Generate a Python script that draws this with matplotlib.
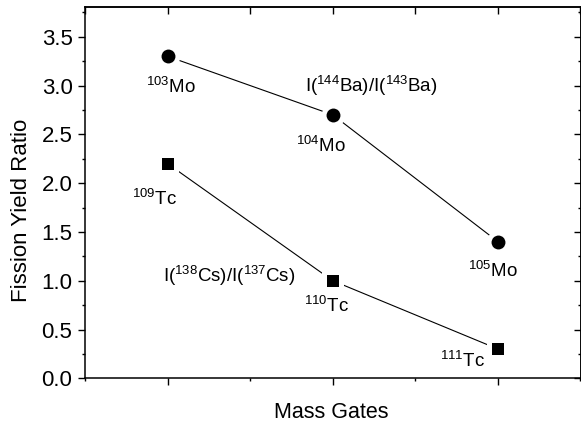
import matplotlib
matplotlib.use("Agg")
import matplotlib.pyplot as plt
from matplotlib.ticker import MultipleLocator, NullFormatter

plt.rcParams['font.family'] = ['Liberation Sans', 'DejaVu Sans']
plt.rcParams['mathtext.fontset'] = 'custom'
plt.rcParams['mathtext.rm'] = 'Liberation Sans'
plt.rcParams['mathtext.it'] = 'Liberation Sans'

gates = [1, 2, 3]
mo_ratio = [3.3, 2.7, 1.4]
tc_ratio = [2.2, 1.0, 0.3]
mo_labels = [r'$^{103}$Mo', r'$^{104}$Mo', r'$^{105}$Mo']
tc_labels = [r'$^{109}$Tc', r'$^{110}$Tc', r'$^{111}$Tc']
mo_title = r'I($^{144}$Ba)/I($^{143}$Ba)'
tc_title = r'I($^{138}$Cs)/I($^{137}$Cs)'

W, H = 581, 428
fig = plt.figure(figsize=(W/100, H/100), dpi=100)
ax = fig.add_axes([85/W, (H-378.3)/H, (580.5-85)/W, (378.3-7.5)/H])

for ys, mk, ms in [(mo_ratio, 'o', 10), (tc_ratio, 's', 9)]:
    ax.plot(gates, ys, '-', color='black', lw=0.8, zorder=2)
    ax.plot(gates, ys, mk, color='white', ms=ms+7, mew=0, zorder=3)
    ax.plot(gates, ys, mk, color='black', ms=ms, mew=0, zorder=4)

fs_ann = 13.5
mo_off = [(3, -31), (-12, -31), (-5, -29)]
tc_off = [(-13, -35), (-6, -25), (-35, -12)]
for x, y, lab, off in zip(gates, mo_ratio, mo_labels, mo_off):
    ax.annotate(lab, (x, y), xytext=off, textcoords='offset pixels',
                ha='center', va='center', fontsize=fs_ann)
for x, y, lab, off in zip(gates, tc_ratio, tc_labels, tc_off):
    ax.annotate(lab, (x, y), xytext=off, textcoords='offset pixels',
                ha='center', va='center', fontsize=fs_ann)

ax.annotate(mo_title, (gates[1], mo_ratio[1]), xytext=(38, 29), textcoords='offset pixels',
            ha='center', va='center', fontsize=fs_ann)
ax.annotate(tc_title, (gates[1], tc_ratio[1]), xytext=(-104, 5), textcoords='offset pixels',
            ha='center', va='center', fontsize=fs_ann)

ax.set_xlim(0.5, 3.5)
ax.set_ylim(0, 3.8)
ax.xaxis.set_major_locator(MultipleLocator(1))
ax.xaxis.set_minor_locator(MultipleLocator(0.5))
ax.xaxis.set_major_formatter(NullFormatter())
ax.yaxis.set_major_locator(MultipleLocator(0.5))
ax.yaxis.set_minor_locator(MultipleLocator(0.25))
ax.yaxis.set_major_formatter(plt.FuncFormatter(lambda v, p: f'{v:.1f}'))

ax.tick_params(axis='both', which='major', direction='out', length=5, width=1.0,
               labelsize=16, top=False, right=False, pad=4)
ax.tick_params(axis='both', which='minor', direction='out', length=2.5, width=1.0,
               top=False, right=False)

axt = ax.secondary_xaxis('top')
axt.xaxis.set_major_locator(MultipleLocator(1))
axt.xaxis.set_minor_locator(MultipleLocator(0.5))
axt.tick_params(which='major', direction='in', length=5, width=1.0, labeltop=False)
axt.tick_params(which='minor', direction='in', length=5, width=1.0)
axt.xaxis.set_major_formatter(NullFormatter())
axr = ax.secondary_yaxis('right')
axr.yaxis.set_major_locator(MultipleLocator(0.5))
axr.yaxis.set_minor_locator(MultipleLocator(0.25))
axr.tick_params(which='major', direction='in', length=5, width=1.0, labelright=False)
axr.tick_params(which='minor', direction='in', length=2.5, width=1.0)
axr.yaxis.set_major_formatter(NullFormatter())

for s in ax.spines.values():
    s.set_linewidth(1.1)
axt.spines['top'].set_linewidth(1.1)
axr.spines['right'].set_linewidth(1.1)

ax.set_xlabel('Mass Gates', fontsize=15.5, va='center')
ax.xaxis.set_label_coords((331-85)/495.5, (378.3-413)/370.8)
ax.set_ylabel('Fission Yield Ratio', fontsize=16, va='center')
ax.yaxis.set_label_coords((22-85)/495.5, (378.3-210)/370.8)

fig.savefig('out.png', dpi=100)
